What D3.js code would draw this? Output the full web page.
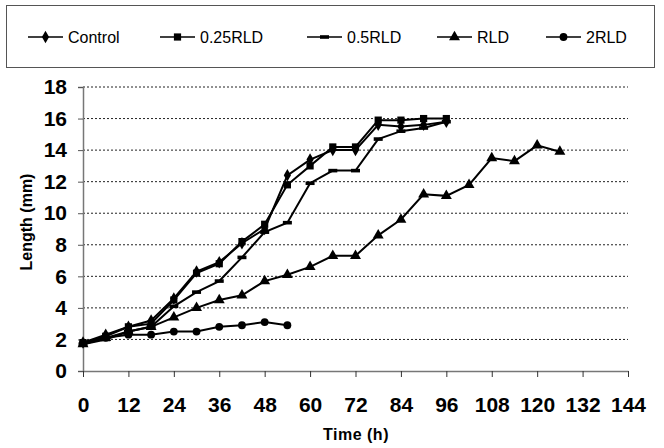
<!DOCTYPE html>
<html>
<head>
<meta charset="utf-8">
<script src="https://cdn.jsdelivr.net/npm/d3@7"></script>
<style>
  body { margin: 0; background: #fff; }
  svg { font-family: "Liberation Sans", Arial, sans-serif; }
</style>
</head>
<body>
<div class="chart"></div>
<script>
// hours measured
const hours = [0, 6, 12, 18, 24, 30, 36, 42, 48, 54, 60, 66, 72, 78, 84, 90, 96, 102, 108, 114, 120, 126];

// lengths (mm) per treatment
const control = [1.8, 2.3, 2.8, 3.2, 4.6, 6.3, 6.9, 8.1, 9.0, 12.4, 13.4, 14.0, 14.0, 15.6, 15.5, 15.6, 15.8];
const rld025 = [1.8, 2.2, 2.8, 3.0, 4.5, 6.2, 6.8, 8.2, 9.3, 11.8, 13.0, 14.2, 14.2, 15.9, 15.9, 16.0, 16.0];
const rld05 = [1.7, 2.0, 2.5, 2.8, 4.1, 5.0, 5.7, 7.2, 8.8, 9.4, 11.9, 12.7, 12.7, 14.7, 15.2, 15.4, 15.8];
const rld = [1.7, 2.1, 2.5, 2.8, 3.4, 4.0, 4.5, 4.8, 5.7, 6.1, 6.6, 7.3, 7.3, 8.6, 9.6, 11.2, 11.1, 11.8, 13.5, 13.3, 14.3, 13.9];
const rld2 = [1.8, 2.1, 2.3, 2.3, 2.5, 2.5, 2.8, 2.9, 3.1, 2.9];

const seriesNames = ["Control", "0.25RLD", "0.5RLD", "RLD", "2RLD"];
const seriesValues = [control, rld025, rld05, rld, rld2];
const markerKinds = ["diamond", "square", "dash", "triangle", "circle"];

const xTicks = d3.range(0, 145, 12);
const yTicks = d3.range(0, 19, 2);

const width = 664;
const height = 448;
const margin = {top: 87, right: 36, bottom: 77, left: 83};

const svg = d3.select(".chart")
  .append("svg")
  .attr("width", width)
  .attr("height", height);

const x = d3.scaleLinear().domain([0, 144]).range([margin.left, width - margin.right]);
const y = d3.scaleLinear().domain([0, 18]).range([height - margin.bottom, margin.top]);

// dotted gridlines
svg.append("g")
  .selectAll("line")
  .data(yTicks.filter(d => d > 0))
  .join("line")
  .attr("x1", x(0))
  .attr("x2", x(144))
  .attr("y1", d => y(d))
  .attr("y2", d => y(d))
  .attr("stroke", "#222")
  .attr("stroke-width", 1)
  .attr("stroke-dasharray", "2,2");

// y axis
svg.append("g")
  .attr("transform", `translate(${x(0)},0)`)
  .call(d3.axisLeft(y).tickValues(yTicks).tickSize(5).tickPadding(11))
  .call(g => g.select(".domain").attr("stroke", "#777").attr("stroke-width", 1.5))
  .call(g => g.selectAll(".tick line").attr("stroke", "#555"))
  .call(g => g.selectAll("text")
    .attr("font-size", 21).attr("font-weight", "bold").attr("fill", "#000")
    .attr("font-family", "Liberation Sans, Arial, sans-serif"));

// x axis
svg.append("g")
  .attr("transform", `translate(0,${y(0)})`)
  .call(d3.axisBottom(x).tickValues(xTicks).tickSize(6).tickSizeOuter(0).tickPadding(20))
  .call(g => g.select(".domain").attr("stroke", "#777").attr("stroke-width", 1.5))
  .call(g => g.selectAll(".tick line").attr("stroke", "#333"))
  .call(g => g.selectAll("text")
    .attr("font-size", 21).attr("font-weight", "bold").attr("fill", "#000")
    .attr("font-family", "Liberation Sans, Arial, sans-serif"));

// axis titles
svg.append("text")
  .attr("x", 356)
  .attr("y", 440)
  .attr("text-anchor", "middle")
  .attr("font-size", 16)
  .attr("font-weight", "bold")
  .attr("letter-spacing", 0.5)
  .text("Time (h)");

svg.append("text")
  .attr("transform", `translate(32,222) rotate(-90)`)
  .attr("text-anchor", "middle")
  .attr("font-size", 16)
  .attr("font-weight", "bold")
  .text("Length (mm)");

// marker drawing
function marker(sel, kind) {
  if (kind === "dash") {
    sel.append("rect").attr("x", -4.5).attr("y", -1.8).attr("width", 9).attr("height", 3.6);
  } else {
    const t = {diamond: d3.symbolDiamond, square: d3.symbolSquare, triangle: d3.symbolTriangle, circle: d3.symbolCircle}[kind];
    const s = {diamond: 45, square: 52, triangle: 52, circle: 48}[kind];
    sel.append("path").attr("d", d3.symbol(t, s)());
  }
}

const line = d3.line()
  .x((d, i) => x(hours[i]))
  .y(d => y(d));

seriesValues.forEach((vals, k) => {
  svg.append("path")
    .datum(vals)
    .attr("fill", "none")
    .attr("stroke", "#000")
    .attr("stroke-width", 2)
    .attr("d", line);

  svg.append("g")
    .selectAll("g")
    .data(vals)
    .join("g")
    .attr("transform", (d, i) => `translate(${x(hours[i])},${y(d)})`)
    .attr("fill", "#000")
    .each(function() { marker(d3.select(this), markerKinds[k]); });
});

// legend box
svg.append("rect")
  .attr("x", 6.5)
  .attr("y", 5.5)
  .attr("width", 648)
  .attr("height", 62)
  .attr("fill", "#fff")
  .attr("stroke", "#555")
  .attr("stroke-width", 1);

const legendX = [28, 160, 307, 437, 546];
seriesNames.forEach((name, k) => {
  const g = svg.append("g").attr("transform", `translate(${legendX[k]},37)`);
  g.append("line").attr("x1", 0).attr("x2", 35).attr("stroke", "#000").attr("stroke-width", 1.5);
  const m = g.append("g").attr("transform", "translate(17.5,0)").attr("fill", "#000");
  marker(m, markerKinds[k]);
  g.append("text")
    .attr("x", 40)
    .attr("y", 6)
    .attr("font-size", 16)
    .text(name);
});
</script>
</body>
</html>
